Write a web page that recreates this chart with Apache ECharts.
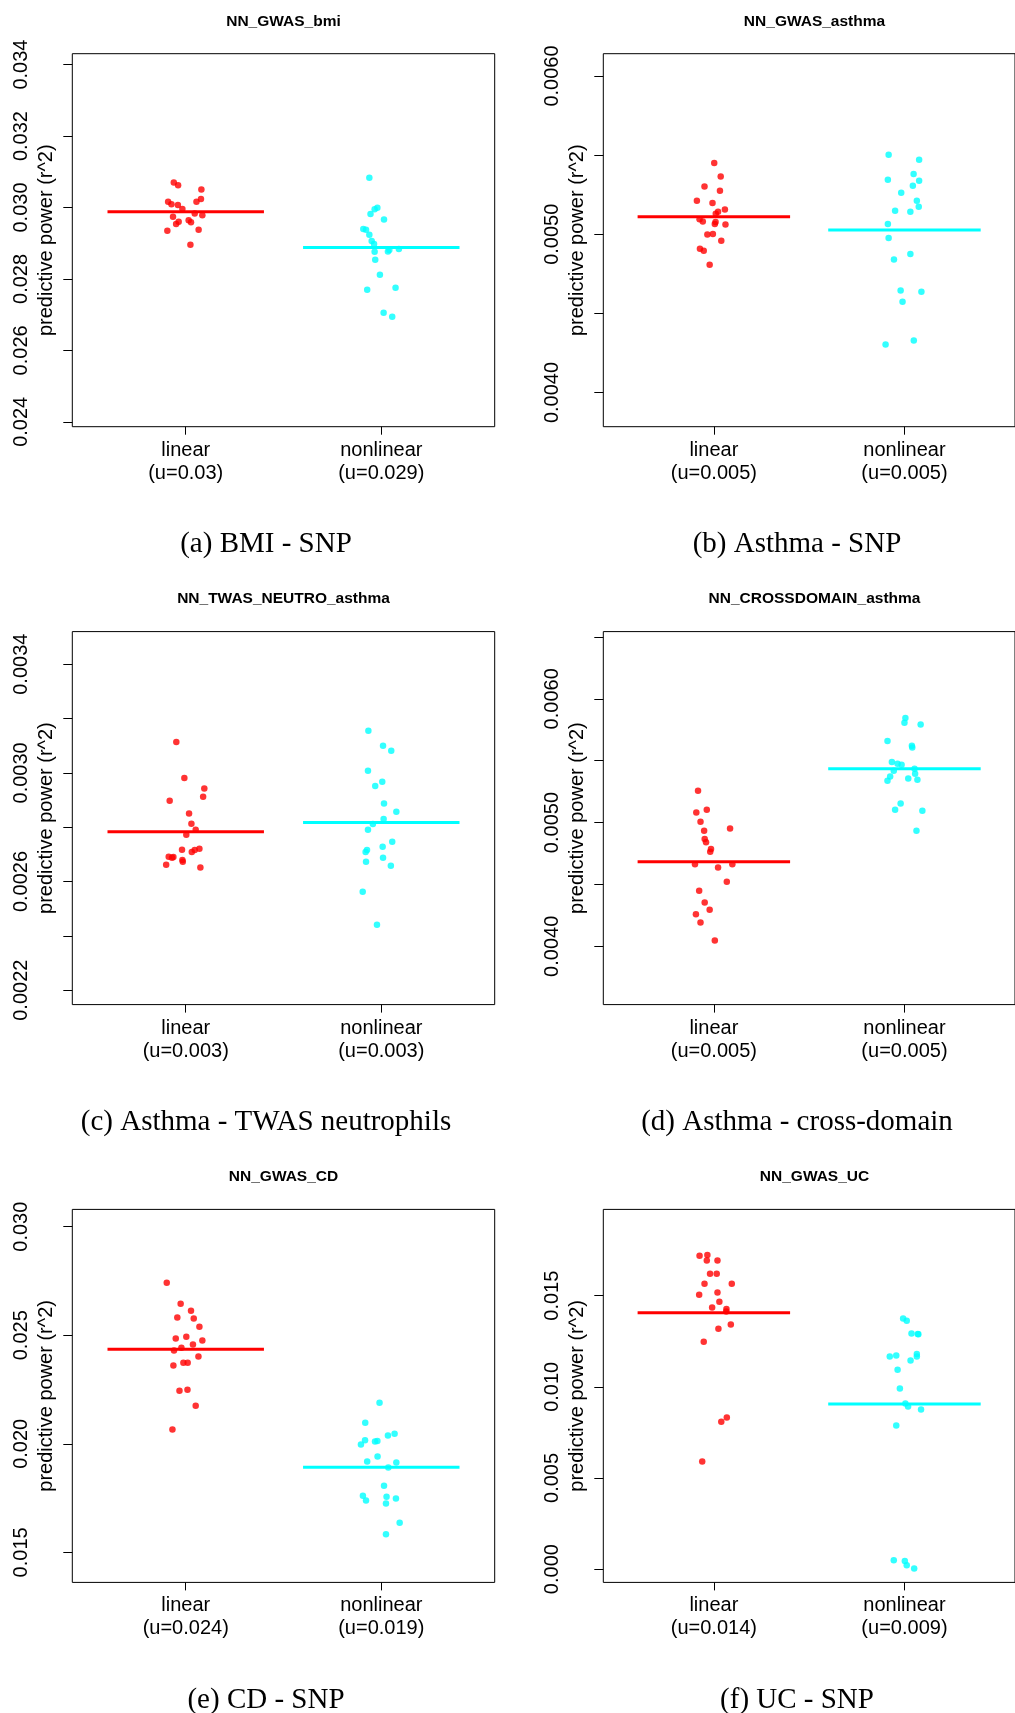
<!DOCTYPE html>
<html><head><meta charset="utf-8">
<script src="https://cdn.jsdelivr.net/npm/echarts@6/dist/echarts.min.js"></script>
<style>html,body{margin:0;padding:0;background:#fff}#c{width:1015px;height:1713px}</style>
</head><body><div id="c"></div>
<script>
// ---------- data ----------
const titles = ['NN_GWAS_bmi','NN_GWAS_asthma','NN_TWAS_NEUTRO_asthma','NN_CROSSDOMAIN_asthma','NN_GWAS_CD','NN_GWAS_UC'];
const captions = ['(a) BMI - SNP','(b) Asthma - SNP','(c) Asthma - TWAS neutrophils','(d) Asthma - cross-domain','(e) CD - SNP','(f) UC - SNP'];
const yName = 'predictive power (r^2)';

// (a) BMI
const bmiLinY = [0.03070,0.03062,0.03050,0.03016,0.03009,0.03007,0.03024,0.03016,0.02996,0.02974,0.02983,0.02978,0.02954,0.02960,0.02964,0.02959,0.02935,0.02938,0.02896];
const bmiLinJit = [-0.061,-0.039,0.080,-0.090,-0.073,-0.040,0.078,0.055,-0.017,-0.065,0.046,0.085,-0.049,-0.036,0.015,0.027,-0.094,0.066,0.024];
const bmiNonY = [0.03083,0.02999,0.02995,0.02982,0.02966,0.02940,0.02938,0.02924,0.02906,0.02898,0.02876,0.02877,0.02881,0.02884,0.02854,0.02812,0.02770,0.02775,0.02705,0.02694];
const bmiNonJit = [-0.061,-0.020,-0.034,-0.055,0.014,-0.092,-0.078,-0.061,-0.049,-0.037,-0.034,0.034,0.041,0.090,-0.031,-0.007,-0.072,0.073,0.012,0.056];
const bmiMeans = [0.02988,0.02888];
const bmiXLabels = ['linear\n(u=0.03)','nonlinear\n(u=0.029)'];
const bmiTicks = [0.024,0.026,0.028,0.030,0.032,0.034];
const bmiTickLabels = ['0.024','0.026','0.028','0.030','0.032','0.034'];

// (b) Asthma SNP
const asLinY = [0.005451,0.005365,0.005302,0.005275,0.005212,0.005198,0.005156,0.005142,0.005129,0.005095,0.005081,0.005065,0.005077,0.005061,0.004998,0.005002,0.004959,0.004908,0.004896,0.004808];
const asLinJit = [0.002,0.036,-0.049,0.032,-0.089,-0.007,0.058,0.022,0.010,-0.075,-0.058,0.005,0.009,0.061,-0.034,-0.005,0.039,-0.073,-0.053,-0.022];
const asNonY = [0.005503,0.005471,0.005381,0.005345,0.005338,0.005307,0.005262,0.005212,0.005174,0.005149,0.005142,0.005065,0.004977,0.004876,0.004840,0.004644,0.004637,0.004574,0.004328,0.004303];
const asNonJit = [-0.083,0.077,0.048,-0.087,0.077,0.044,-0.017,0.065,0.075,-0.049,0.031,-0.087,-0.083,0.031,-0.055,-0.020,0.089,-0.010,0.049,-0.099];
const asMeans = [0.005111,0.005027];
const asXLabels = ['linear\n(u=0.005)','nonlinear\n(u=0.005)'];
const asTicks = [0.0040,0.0045,0.0050,0.0055,0.0060];
const asTickLabels = ['0.0040','','0.0050','','0.0060'];

// (c) Asthma TWAS neutrophils
const twLinY = [0.003114,0.002981,0.002942,0.002912,0.002897,0.002850,0.002813,0.002791,0.002772,0.002717,0.002721,0.002716,0.002709,0.002691,0.002690,0.002679,0.002673,0.002662,0.002652,0.002688];
const twLinJit = [-0.048,-0.007,0.095,0.089,-0.082,0.017,0.029,0.051,0.003,-0.019,0.070,0.046,0.031,-0.087,-0.063,-0.017,-0.015,-0.100,0.075,-0.070];
const twNonY = [0.003155,0.003100,0.003081,0.003008,0.002967,0.002952,0.002887,0.002857,0.002830,0.002812,0.002791,0.002746,0.002728,0.002716,0.002709,0.002688,0.002673,0.002658,0.002562,0.002441];
const twNonJit = [-0.066,0.009,0.051,-0.068,0.005,-0.031,0.014,0.077,0.012,-0.043,-0.068,0.056,0.007,-0.073,-0.080,0.009,-0.078,0.049,-0.095,-0.022];
const twMeans = [0.002783,0.002817];
const twXLabels = ['linear\n(u=0.003)','nonlinear\n(u=0.003)'];
const twTicks = [0.0022,0.0024,0.0026,0.0028,0.0030,0.0032,0.0034];
const twTickLabels = ['0.0022','','0.0026','','0.0030','','0.0034'];

// (d) Asthma cross-domain
const crossLinY = [0.005257,0.005104,0.005081,0.005006,0.004951,0.004934,0.004867,0.004841,0.004787,0.004764,0.004663,0.004663,0.004637,0.004521,0.004449,0.004354,0.004296,0.004259,0.004193,0.004046];
const crossLinJit = [-0.083,-0.037,-0.092,-0.070,0.085,-0.051,-0.048,-0.041,-0.015,-0.019,-0.099,0.097,0.022,0.068,-0.077,-0.048,-0.022,-0.094,-0.070,0.005];
const crossNonY = [0.005845,0.005807,0.005793,0.005660,0.005620,0.005606,0.005490,0.005476,0.005467,0.005435,0.005418,0.005395,0.005372,0.005355,0.005346,0.005337,0.005153,0.005104,0.005095,0.004934];
const crossNonJit = [0.005,0.000,0.085,-0.089,0.039,0.041,-0.066,-0.036,-0.015,0.053,-0.056,0.056,-0.075,0.020,0.068,-0.089,-0.020,-0.049,0.094,0.063];
const crossMeans = [0.004683,0.005435];
const crossXLabels = ['linear\n(u=0.005)','nonlinear\n(u=0.005)'];
const crossTicks = [0.0040,0.0045,0.0050,0.0055,0.0060,0.0065];
const crossTickLabels = ['0.0040','','0.0050','','0.0060',''];

// (e) CD SNP
const cdLinY = [0.027424,0.026457,0.026130,0.025819,0.025770,0.025393,0.024934,0.024853,0.024754,0.024574,0.024427,0.024296,0.024017,0.023739,0.023739,0.023608,0.022494,0.022445,0.021758,0.020661];
const cdLinJit = [-0.097,-0.026,0.027,-0.043,0.041,0.070,0.003,-0.051,0.085,0.037,-0.022,-0.060,0.065,-0.012,0.010,-0.063,0.009,-0.032,0.051,-0.068];
const cdNonY = [0.021889,0.020972,0.020464,0.020382,0.020169,0.020136,0.020104,0.019973,0.019416,0.019187,0.019137,0.018908,0.018073,0.017614,0.017565,0.017484,0.017385,0.017254,0.016370,0.015830];
const cdNonJit = [-0.009,-0.082,0.068,0.034,-0.083,-0.020,-0.032,-0.104,-0.019,-0.072,0.077,0.036,0.014,-0.094,0.027,0.075,-0.078,0.024,0.094,0.024];
const cdMeans = [0.024361,0.018925];
const cdXLabels = ['linear\n(u=0.024)','nonlinear\n(u=0.019)'];
const cdTicks = [0.015,0.020,0.025,0.030];
const cdTickLabels = ['0.015','0.020','0.025','0.030'];

// (f) UC SNP
const ucLinY = [0.017198,0.017238,0.016925,0.016925,0.016204,0.016204,0.015657,0.015657,0.015053,0.015170,0.014662,0.014350,0.014272,0.014136,0.013414,0.013180,0.012478,0.008322,0.008088,0.005903];
const ucLinJit = [-0.075,-0.034,-0.037,0.019,-0.020,0.015,-0.049,0.094,-0.077,0.019,0.029,-0.009,0.066,0.065,0.089,0.024,-0.053,0.068,0.039,-0.061];
const ucNonY = [0.013746,0.013628,0.012926,0.012887,0.011795,0.011658,0.011658,0.011717,0.011444,0.010936,0.009902,0.009083,0.008927,0.008751,0.007874,0.000480,0.000441,0.000207,0.000031,0.012900];
const ucNonJit = [-0.007,0.012,0.037,0.073,0.065,0.065,-0.077,-0.043,0.032,-0.036,-0.024,0.005,0.019,0.087,-0.043,-0.056,0.002,0.012,0.051,0.070];
const ucMeans = [0.014058,0.009064];
const ucXLabels = ['linear\n(u=0.014)','nonlinear\n(u=0.009)'];
const ucTicks = [0.000,0.005,0.010,0.015];
const ucTickLabels = ['0.000','0.005','0.010','0.015'];

// ---------- panel assembly ----------
const panels = [
  {linY:bmiLinY, linJ:bmiLinJit, nonY:bmiNonY, nonJ:bmiNonJit, means:bmiMeans, xl:bmiXLabels, ticks:bmiTicks, tl:bmiTickLabels, ymin:0.023863, ymax:0.034305},
  {linY:asLinY, linJ:asLinJit, nonY:asNonY, nonJ:asNonJit, means:asMeans, xl:asXLabels, ticks:asTicks, tl:asTickLabels, ymin:0.003784, ymax:0.006141},
  {linY:twLinY, linJ:twLinJit, nonY:twNonY, nonJ:twNonJit, means:twMeans, xl:twXLabels, ticks:twTicks, tl:twTickLabels, ymin:0.002147, ymax:0.003520},
  {linY:crossLinY, linJ:crossLinJit, nonY:crossNonY, nonJ:crossNonJit, means:crossMeans, xl:crossXLabels, ticks:crossTicks, tl:crossTickLabels, ymin:0.003529, ymax:0.006543},
  {linY:cdLinY, linJ:cdLinJit, nonY:cdNonY, nonJ:cdNonJit, means:cdMeans, xl:cdXLabels, ticks:cdTicks, tl:cdTickLabels, ymin:0.013618, ymax:0.030797},
  {linY:ucLinY, linJ:ucLinJit, nonY:ucNonY, nonJ:ucNonJit, means:ucMeans, xl:ucXLabels, ticks:ucTicks, tl:ucTickLabels, ymin:-0.000729, ymax:0.019734}
];

const SANS = '"Liberation Sans", Arial, Helvetica, sans-serif';
const SERIF = '"Liberation Serif", "Times New Roman", serif';
const colLeft = [72.3, 603.3];
const rowTop = [53.7, 631.6, 1209.4];
const rowOff = [0, 577.9, 1155.7];
const GW = 422.4, GH = 373;
const capX = [266, 797];

const grid = [], xAxis = [], yAxis = [], series = [], graphic = [];
panels.forEach((p, i) => {
  const c = i % 2, r = Math.floor(i / 2);
  grid.push({left: colLeft[c], top: rowTop[r], width: GW, height: GH, show: true,
    borderColor: '#000', borderWidth: 1, backgroundColor: 'transparent', containLabel: false});
  xAxis.push({type: 'value', gridIndex: i, position: 'bottom', min: 0.42, max: 2.58, splitLine: {show: false},
    axisLine: {show: false, onZero: false},
    axisTick: {show: true, length: 8, lineStyle: {color: '#000', width: 1}, customValues: [1, 2]},
    axisLabel: {show: true, customValues: [1, 2], margin: 12, fontSize: 20, lineHeight: 23,
      fontFamily: SANS, color: '#000', formatter: v => p.xl[Math.round(v) - 1]}});
  const labeled = p.ticks.filter((t, k) => p.tl[k] !== '');
  yAxis.push({type: 'value', gridIndex: i, position: 'left', min: p.ymin, max: p.ymax, splitLine: {show: false},
    axisLine: {show: false, onZero: false},
    name: yName, nameLocation: 'middle', nameGap: 15.5, nameMoveOverlap: false,
    nameTextStyle: {fontSize: 20, fontFamily: SANS, color: '#000', lineHeight: 20},
    axisTick: {show: true, length: 9, lineStyle: {color: '#000', width: 1}, customValues: p.ticks},
    axisLabel: {show: true, customValues: labeled, rotate: 90, margin: 41, fontSize: 20, lineHeight: 20,
      fontFamily: SANS, color: '#000', hideOverlap: false,
      formatter: v => { const k = p.ticks.findIndex(t => Math.abs(t - v) < 1e-9); return k >= 0 ? p.tl[k] : ''; }}});
  series.push({type: 'scatter', xAxisIndex: i, yAxisIndex: i, symbol: 'circle', symbolSize: 6.5,
    itemStyle: {color: '#FF0000'}, data: p.linY.map((y, k) => [1 + p.linJ[k], y]), z: 2});
  series.push({type: 'scatter', xAxisIndex: i, yAxisIndex: i, symbol: 'circle', symbolSize: 6.5,
    itemStyle: {color: '#00FFFF'}, data: p.nonY.map((y, k) => [2 + p.nonJ[k], y]), z: 2});
  series.push({type: 'line', xAxisIndex: i, yAxisIndex: i, symbol: 'none', z: 3,
    lineStyle: {color: '#FF0000', width: 3}, data: [[0.6, p.means[0]], [1.4, p.means[0]]]});
  series.push({type: 'line', xAxisIndex: i, yAxisIndex: i, symbol: 'none', z: 3,
    lineStyle: {color: '#00FFFF', width: 3}, data: [[1.6, p.means[1]], [2.4, p.means[1]]]});
  graphic.push({type: 'text', x: colLeft[c] + GW / 2, y: 21.3 + rowOff[r],
    style: {text: titles[i], font: 'bold 15.5px ' + SANS, fill: '#000', align: 'center', verticalAlign: 'middle'}});
  graphic.push({type: 'text', x: capX[c], y: 544.5 + rowOff[r],
    style: {text: captions[i], font: '29px ' + SERIF, fill: '#000', align: 'center', verticalAlign: 'middle'}});
});

const chart = echarts.init(document.getElementById('c'), null, {renderer: 'canvas'});
chart.setOption({animation: false, backgroundColor: '#fff', grid, xAxis, yAxis, series, graphic});
</script></body></html>
